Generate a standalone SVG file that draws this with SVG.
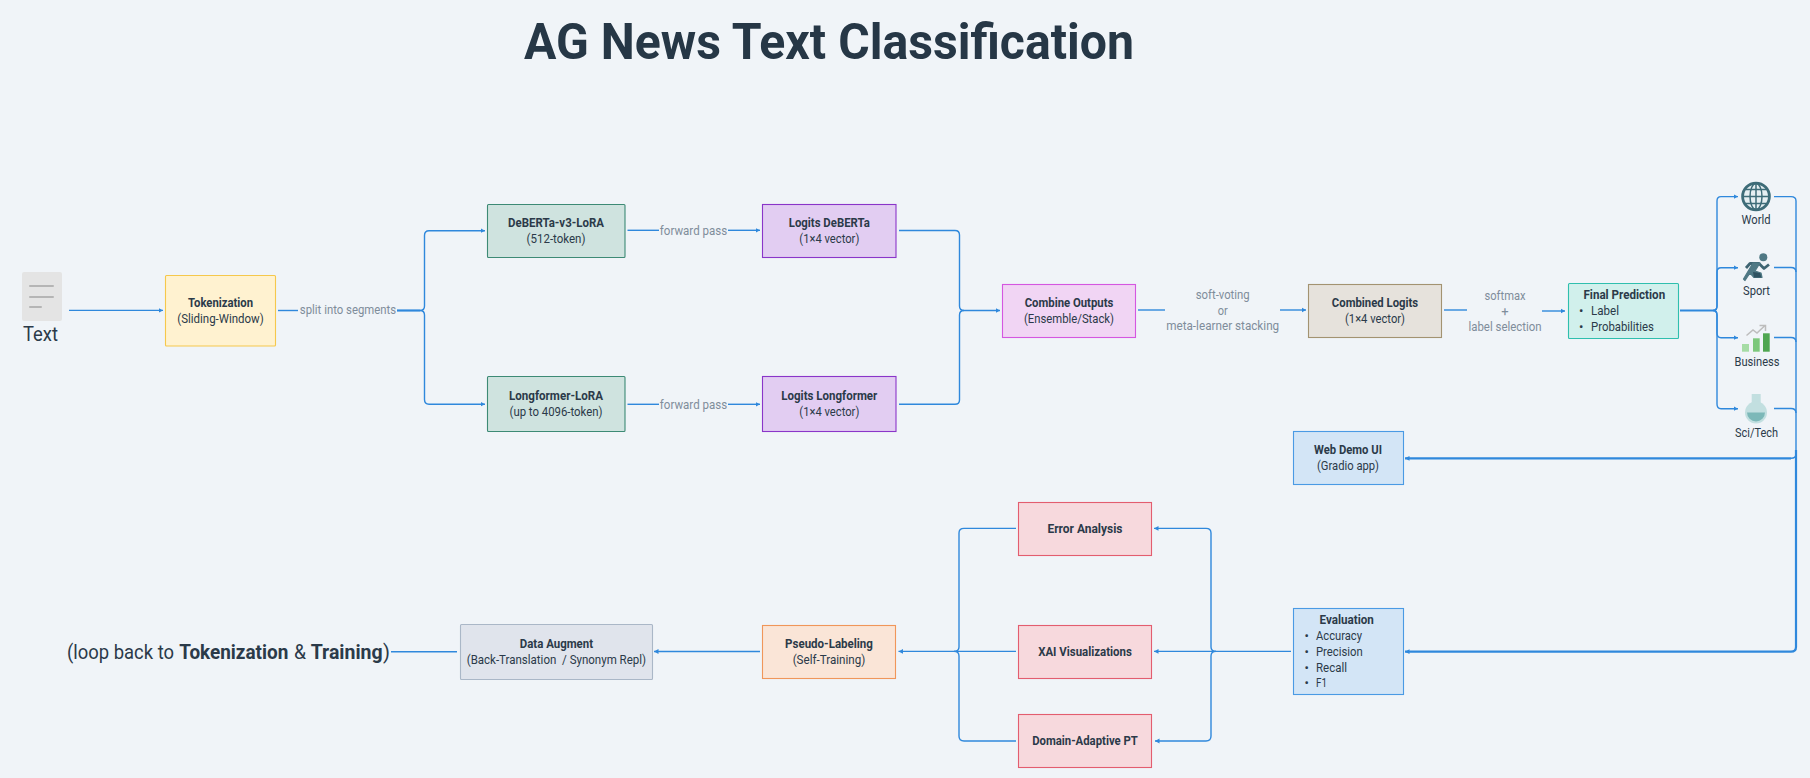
<svg xmlns="http://www.w3.org/2000/svg" width="1810" height="778" viewBox="0 0 1810 778">
<style>
text{font-family:"Roboto","Liberation Sans",sans-serif;fill:#2b3a49;font-size:13px;text-anchor:middle;white-space:pre}
.b{font-weight:700}
.s{text-anchor:start}
.lb{fill:#7f8d9b}
.big{font-size:20px}
.box{stroke-width:1.1}
.yel{fill:#fff2d0;stroke:#f5c84c}
.grn{fill:#cfe3df;stroke:#3d8a75}
.pur{fill:#e2cdf2;stroke:#8a35c9}
.mag{fill:#f1d5f4;stroke:#d557e0}
.tan{fill:#e6e2dc;stroke:#a39371}
.tea{fill:#d1f0ec;stroke:#2fbfae}
.blu{fill:#d3e5f6;stroke:#4a9ae4}
.pnk{fill:#f7d9dd;stroke:#e35d6f}
.org{fill:#fae5d7;stroke:#f0965a}
.gry{fill:#e0e4ec;stroke:#aab7c7}
.c{fill:none;stroke:#2f88dc;stroke-width:1.4}
.h{stroke-width:2.2}
.a{marker-end:url(#ah)}
</style>
<defs>
<marker id="ah" markerUnits="userSpaceOnUse" markerWidth="5" markerHeight="6" refX="4.5" refY="3" orient="auto"><path d="M0 .6L4.5 3L0 5.4z" fill="#2f88dc"/></marker>
</defs>
<rect width="1810" height="778" fill="#f0f4f8"/>
<text id="title" class="b" x="829" y="59" style="font-size:50px;fill:#263746" textLength="610" lengthAdjust="spacingAndGlyphs">AG News Text Classification</text>
<g id="connectors">
<path class="c a" d="M69 310.4H163"/>
<path class="c" d="M278 310.5H298"/>
<path class="c h" d="M397 310.5H420"/>
<path class="c a" d="M420 310.5Q424.5 310.5 424.5 306V235.5Q424.5 230.7 429 230.7H485"/>
<path class="c a" d="M420 310.5Q424.5 310.5 424.5 315V399.5Q424.5 404.2 429 404.2H485"/>
<path class="c" d="M627.5 230.3H659"/><path class="c a" d="M728 230.3H760"/>
<path class="c" d="M627.5 404.3H659"/><path class="c a" d="M728 404.3H760"/>
<path class="c" d="M899 230.5H955Q959.5 230.5 959.5 235V306Q959.5 310.5 964 310.5"/>
<path class="c" d="M899 404.3H955Q959.5 404.3 959.5 400V315Q959.5 310.5 964 310.5"/>
<path class="c a" d="M964 310.5H1000"/>
<path class="c" d="M1138 310H1165"/><path class="c a" d="M1280 310H1306"/>
<path class="c" d="M1444 310H1467"/><path class="c a" d="M1542 311H1565"/>
<path class="c h" d="M1680 310.5H1713"/>
<path class="c a" d="M1713 310.5Q1717 310.5 1717 306V201Q1717 196.6 1721 196.6H1738"/>
<path class="c a" d="M1713 310.5Q1717 310.5 1717 306V272Q1717 267.7 1721 267.7H1738"/>
<path class="c a" d="M1713 310.5Q1717 310.5 1717 315V333Q1717 337.7 1721 337.7H1738"/>
<path class="c a" d="M1713 310.5Q1717 310.5 1717 315V404Q1717 408.7 1721 408.7H1738"/>
<path class="c" d="M1774 196.6H1791Q1796 196.6 1796 201V454Q1796 458.3 1791 458.3"/>
<path class="c" d="M1774 267.5H1791Q1796 267.5 1796 272"/>
<path class="c" d="M1774 337.5H1791Q1796 337.5 1796 342"/>
<path class="c" d="M1774 408.5H1791Q1796 408.5 1796 413"/>
<path class="c h a" d="M1791 458.3H1405"/>
<path class="c h a" d="M1796 450V647Q1796 651.7 1791 651.7H1405"/>
<path class="c" d="M1291 651.4H1216"/>
<path class="c a" d="M1216 651.4H1154"/>
<path class="c a" d="M1216 651.4Q1211 651.4 1211 647V533Q1211 528.4 1206 528.4H1154"/>
<path class="c a" d="M1216 651.4Q1211 651.4 1211 656V736Q1211 741 1206 741H1155"/>
<path class="c" d="M1016 528.4H964Q959 528.4 959 533V647Q959 651.4 954 651.4"/>
<path class="c" d="M1016 651.4H954"/>
<path class="c" d="M1016 741H964Q959 741 959 736V656Q959 651.4 954 651.4"/>
<path class="c a" d="M954 651.4H898.5"/>
<path class="c a" d="M760 651.5H654"/>
<path class="c" d="M457 651.7H391"/>
</g>
<g id="edge-labels">
<text class="lb" x="348" y="314" textLength="96.3" lengthAdjust="spacingAndGlyphs">split into segments</text>
<text class="lb" x="693.5" y="234.7" textLength="67.3" lengthAdjust="spacingAndGlyphs">forward pass</text>
<text class="lb" x="693.5" y="408.7" textLength="67.3" lengthAdjust="spacingAndGlyphs">forward pass</text>
<text class="lb" x="1222.7" y="299" textLength="54" lengthAdjust="spacingAndGlyphs">soft-voting</text>
<text class="lb" x="1222.7" y="314.7" textLength="10" lengthAdjust="spacingAndGlyphs">or</text>
<text class="lb" x="1222.7" y="330" textLength="113" lengthAdjust="spacingAndGlyphs">meta-learner stacking</text>
<text class="lb" x="1505" y="300" textLength="41" lengthAdjust="spacingAndGlyphs">softmax</text>
<text class="lb" x="1505" y="316">+</text>
<text class="lb" x="1505" y="331" textLength="73" lengthAdjust="spacingAndGlyphs">label selection</text>
</g>
<g id="n-text">
<rect x="22" y="272" width="40" height="49" rx="2" fill="#e4e4e4"/>
<path d="M30 286H53M30 297H53M30 307H41" stroke="#b5b5b5" stroke-width="2" stroke-linecap="round" fill="none"/>
<text class="big" x="40.5" y="341" textLength="35" lengthAdjust="spacingAndGlyphs">Text</text>
</g>
<g id="n-tokenization">
<rect class="box yel" x="165.5" y="275.5" width="110" height="70.5" rx="1"/>
<text class="b" x="220.5" y="306.7" textLength="65" lengthAdjust="spacingAndGlyphs">Tokenization</text>
<text x="220.5" y="322.5" textLength="86.5" lengthAdjust="spacingAndGlyphs">(Sliding-Window)</text>
</g>
<g id="n-deberta">
<rect class="box grn" x="487.5" y="204.5" width="137.5" height="53" rx="1"/>
<text class="b" x="556" y="226.7" textLength="96" lengthAdjust="spacingAndGlyphs">DeBERTa-v3-LoRA</text>
<text x="556" y="242.7" textLength="58.8" lengthAdjust="spacingAndGlyphs">(512-token)</text>
</g>
<g id="n-longformer">
<rect class="box grn" x="487.5" y="376.5" width="137.5" height="55" rx="1"/>
<text class="b" x="556" y="400" textLength="94" lengthAdjust="spacingAndGlyphs">Longformer-LoRA</text>
<text x="556" y="415.7" textLength="93" lengthAdjust="spacingAndGlyphs">(up to 4096-token)</text>
</g>
<g id="n-logits-deberta">
<rect class="box pur" x="762.5" y="204.5" width="133.5" height="53"/>
<text class="b" x="829.3" y="227" textLength="81" lengthAdjust="spacingAndGlyphs">Logits DeBERTa</text>
<text x="829.3" y="242.7" textLength="60" lengthAdjust="spacingAndGlyphs">(1×4 vector)</text>
</g>
<g id="n-logits-longformer">
<rect class="box pur" x="762.5" y="376.5" width="133.5" height="55"/>
<text class="b" x="829.3" y="400" textLength="96" lengthAdjust="spacingAndGlyphs">Logits Longformer</text>
<text x="829.3" y="415.7" textLength="60" lengthAdjust="spacingAndGlyphs">(1×4 vector)</text>
</g>
<g id="n-combine">
<rect class="box mag" x="1002.5" y="284.5" width="133" height="53"/>
<text class="b" x="1069" y="307" textLength="88.7" lengthAdjust="spacingAndGlyphs">Combine Outputs</text>
<text x="1069" y="322.7" textLength="90" lengthAdjust="spacingAndGlyphs">(Ensemble/Stack)</text>
</g>
<g id="n-combined-logits">
<rect class="box tan" x="1308.5" y="284.5" width="133" height="53"/>
<text class="b" x="1375" y="307" textLength="86.3" lengthAdjust="spacingAndGlyphs">Combined Logits</text>
<text x="1375" y="322.7" textLength="60" lengthAdjust="spacingAndGlyphs">(1×4 vector)</text>
</g>
<g id="n-final">
<rect class="box tea" x="1568.5" y="283.5" width="110" height="55" rx="1"/>
<text class="b" x="1624.3" y="299" textLength="81.7" lengthAdjust="spacingAndGlyphs">Final Prediction</text>
<text x="1581.3" y="315">•</text>
<text class="s" x="1591" y="315" textLength="28" lengthAdjust="spacingAndGlyphs">Label</text>
<text x="1581.3" y="330.7">•</text>
<text class="s" x="1591" y="330.7" textLength="63" lengthAdjust="spacingAndGlyphs">Probabilities</text>
</g>
<g id="n-world">
<circle cx="1756" cy="196.5" r="13.4" fill="#e6eff2" stroke="#3e6c78" stroke-width="2.8"/>
<g fill="none" stroke="#3e6c78" stroke-width="1.5">
<ellipse cx="1756" cy="196.5" rx="6" ry="13"/>
<path d="M1756 184V209M1743.5 196.5H1768.5M1745.5 189.5H1766.5M1745.5 203.5H1766.5"/>
</g>
<text x="1756" y="224" textLength="29" lengthAdjust="spacingAndGlyphs">World</text>
</g>
<g id="n-sport">
<circle cx="1763.3" cy="257.3" r="4" fill="#4f7884"/>
<path d="M1746 268L1750 263.5H1759L1764 268.5L1769 264.5" fill="none" stroke="#3e6472" stroke-width="2.8" stroke-linejoin="round"/>
<path d="M1753 263L1760 263L1755 271L1761 273L1762 277.5H1754L1750 273L1745 280.5L1743.5 279z" fill="#4f7884" stroke="#4f7884" stroke-width="1.2" stroke-linejoin="round"/>
<path d="M1753 272L1760 273L1761.5 277.5H1754z" fill="#2f5261"/>
<text x="1756.5" y="295" textLength="27" lengthAdjust="spacingAndGlyphs">Sport</text>
</g>
<g id="n-business">
<rect x="1742" y="344" width="7" height="7.7" fill="#a5dca5"/>
<rect x="1753" y="338.3" width="6.7" height="13.4" fill="#7cc87c"/>
<rect x="1763" y="333.3" width="6.7" height="18.4" fill="#4fa651"/>
<path d="M1746.5 335.5L1753 330L1757 333L1765 325.5M1759.5 325.5H1765.5V331" fill="none" stroke="#bdbdbd" stroke-width="1.5"/>
<text x="1757" y="366" textLength="45" lengthAdjust="spacingAndGlyphs">Business</text>
</g>
<g id="n-scitech">
<rect x="1751.7" y="394" width="9" height="12" fill="#c2dfe0"/>
<circle cx="1756" cy="412.5" r="11" fill="#c2dfe0"/>
<path d="M1747 412.5H1765A9 9 0 0 1 1747 412.5z" fill="#7cb8b8"/>
<text x="1756.5" y="436.7" textLength="43" lengthAdjust="spacingAndGlyphs">Sci/Tech</text>
</g>
<g id="n-webdemo">
<rect class="box blu" x="1293.5" y="431.5" width="110" height="53"/>
<text class="b" x="1348" y="454" textLength="68" lengthAdjust="spacingAndGlyphs">Web Demo UI</text>
<text x="1348" y="470" textLength="62" lengthAdjust="spacingAndGlyphs">(Gradio app)</text>
</g>
<g id="n-evaluation">
<rect class="box blu" x="1293.5" y="608.5" width="110" height="86"/>
<text class="b" x="1346.7" y="624" textLength="54.3" lengthAdjust="spacingAndGlyphs">Evaluation</text>
<text x="1306.7" y="640">•</text><text class="s" x="1316" y="640" textLength="46" lengthAdjust="spacingAndGlyphs">Accuracy</text>
<text x="1306.7" y="655.7">•</text><text class="s" x="1316" y="655.7" textLength="46.7" lengthAdjust="spacingAndGlyphs">Precision</text>
<text x="1306.7" y="671.5">•</text><text class="s" x="1316" y="671.5" textLength="31" lengthAdjust="spacingAndGlyphs">Recall</text>
<text x="1306.7" y="687">•</text><text class="s" x="1316" y="687" textLength="11" lengthAdjust="spacingAndGlyphs">F1</text>
</g>
<g id="n-error">
<rect class="box pnk" x="1018.5" y="502.5" width="133" height="53"/>
<text class="b" x="1085" y="532.7" textLength="75" lengthAdjust="spacingAndGlyphs">Error Analysis</text>
</g>
<g id="n-xai">
<rect class="box pnk" x="1018.5" y="625.5" width="133" height="53"/>
<text class="b" x="1085" y="655.7" textLength="93.7" lengthAdjust="spacingAndGlyphs">XAI Visualizations</text>
</g>
<g id="n-domain">
<rect class="box pnk" x="1018.5" y="714.5" width="133" height="53"/>
<text class="b" x="1085" y="745" textLength="105.7" lengthAdjust="spacingAndGlyphs">Domain-Adaptive PT</text>
</g>
<g id="n-pseudo">
<rect class="box org" x="762.5" y="625.5" width="133" height="53"/>
<text class="b" x="829" y="648" textLength="87.8" lengthAdjust="spacingAndGlyphs">Pseudo-Labeling</text>
<text x="829" y="663.7" textLength="72.7" lengthAdjust="spacingAndGlyphs">(Self-Training)</text>
</g>
<g id="n-augment">
<rect class="box gry" x="460.5" y="624.5" width="192" height="55" rx="1"/>
<text class="b" x="556.4" y="648" textLength="73.3" lengthAdjust="spacingAndGlyphs">Data Augment</text>
<text x="556.4" y="663.7" textLength="179.4" lengthAdjust="spacingAndGlyphs">(Back-Translation  / Synonym Repl)</text>
</g>
<g id="n-loop">
<text class="big s" y="658.7" xml:space="preserve"><tspan x="67" textLength="107" lengthAdjust="spacingAndGlyphs">(loop back to</tspan><tspan class="b" x="179.3" textLength="109" lengthAdjust="spacingAndGlyphs">Tokenization</tspan><tspan x="294" textLength="12" lengthAdjust="spacingAndGlyphs">&amp;</tspan><tspan class="b" x="310.7" textLength="72" lengthAdjust="spacingAndGlyphs">Training</tspan><tspan x="383">)</tspan></text>
</g>
</svg>
